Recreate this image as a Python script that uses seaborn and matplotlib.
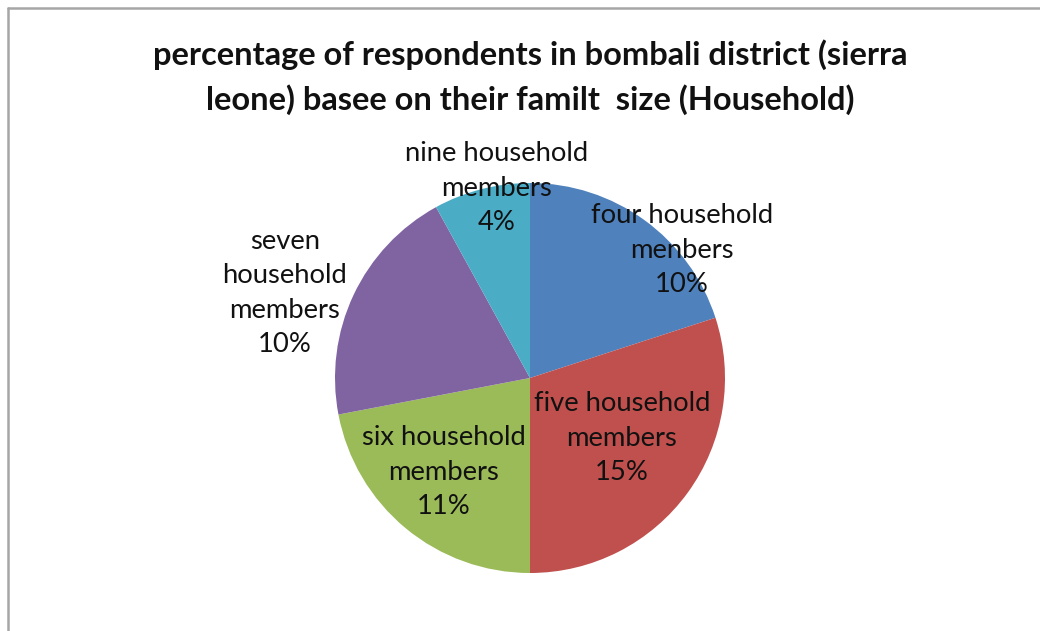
import matplotlib
matplotlib.use("Agg")
import matplotlib.pyplot as plt
import seaborn as sns
from matplotlib.lines import Line2D

sns.set_theme(style="white")
plt.rcParams["font.family"] = ["Lato", "DejaVu Sans"]

# Household size categories and their percentages
categories = ["four household\nmenbers", "five household\nmembers", "six household\nmembers",
              "seven\nhousehold\nmembers", "nine household\nmembers"]
percentages = [10, 15, 11, 10, 4]
colors = sns.color_palette(["#4F81BD", "#C0504D", "#9BBB59", "#8064A2", "#4BACC6"])

# Label anchor points (pixel positions of each label block on the canvas)
label_px = [(682, 250), (622, 438), (444, 472), (285, 293), (497, 188)]

W, H = 1040, 631
fig = plt.figure(figsize=(W / 100, H / 100), dpi=100)
fig.patch.set_facecolor("white")

cx, cy, r = 530, 378, 195
ax = fig.add_axes([(cx - r) / W, (H - cy - r) / H, 2 * r / W, 2 * r / H])
ax.pie(percentages, colors=colors, startangle=90, counterclock=False,
       radius=1.0, wedgeprops=dict(linewidth=0))
ax.set_xlim(-1, 1)
ax.set_ylim(-1, 1)
ax.set_aspect("equal")
ax.axis("off")

for cat, pct, (px, py) in zip(categories, percentages, label_px):
    ax.text((px - cx) / r, (cy - py) / r, f"{cat}\n{pct}%", ha="center", va="center",
            fontsize=19.7, color="#111111", linespacing=1.48, clip_on=False)

fig.text(530 / W, 1 - 77 / H,
         "percentage of respondents in bombali district (sierra\nleone) basee on their familt  size (Household)",
         ha="center", va="center", fontsize=23.5, fontweight="bold", color="#111111",
         linespacing=1.55)

# Chart frame (left and top edges)
fig.add_artist(Line2D([8 / W, 8 / W], [0, 1 - 8 / H], transform=fig.transFigure,
                      color="#a6a6a6", linewidth=1.8))
fig.add_artist(Line2D([8 / W, 1], [1 - 8 / H, 1 - 8 / H], transform=fig.transFigure,
                      color="#a6a6a6", linewidth=1.8))

fig.savefig("out.png", dpi=100, facecolor="white")
